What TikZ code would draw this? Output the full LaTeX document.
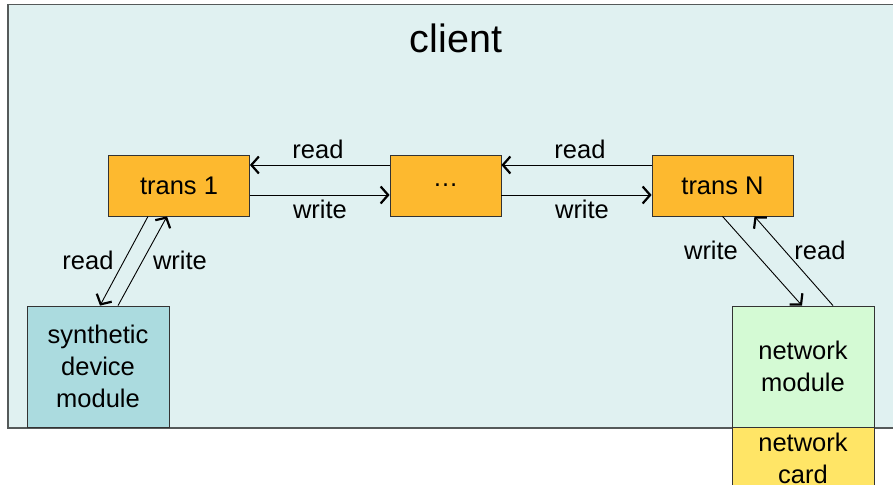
\documentclass[tikz,border=0pt]{standalone}
\usepackage{fontspec}
\setmainfont{Liberation Sans}
\usetikzlibrary{arrows.meta}
\definecolor{clientbg}{HTML}{E0F1F1}
\definecolor{transor}{HTML}{FDB92F}
\definecolor{synbg}{HTML}{ABDBDF}
\definecolor{netbg}{HTML}{D4FAD4}
\definecolor{cardbg}{HTML}{FFE566}
\definecolor{frame}{HTML}{555A5A}
\tikzset{
  lbl/.style={font=\fontsize{25.5}{32}\selectfont, inner sep=0pt},
  box/.style={draw=black!80, line width=0.8pt, inner sep=0pt, align=center, font=\fontsize{25.5}{32}\selectfont},
  transbox/.style={box, fill=transor, minimum width=141pt, minimum height=61pt},
  modbox/.style={box, minimum width=142pt, minimum height=121pt},
  arr/.style={line width=0.9pt, -{Straight Barb[length=7.5pt,width=17pt,line width=2.2pt]}},
}
\begin{document}
\begin{tikzpicture}[x=1pt,y=-1pt]
\useasboundingbox (0,0) rectangle (893,484);
\clip (0,0) rectangle (893,484);
\node[draw=frame, line width=1.5pt, fill=clientbg, minimum width=900pt, minimum height=423pt, anchor=north west, inner sep=0pt] (client) at (7,4) {};
\node[font=\fontsize{39.5}{42}\selectfont] (title) at (456,38) {client};
\node[transbox] (t1) at (179,185.5) {trans 1};
\node[transbox, minimum width=111pt] (dots) at (445.5,185.5) {\dots};
\node[transbox] (tn) at (722.5,185.5) {trans N};
\node[modbox, fill=synbg] (syn) at (98,366.5) {synthetic\\device\\module};
\node[modbox, fill=netbg] (net) at (803,366.5) {network\\module};
\node[box, fill=cardbg, minimum width=142pt, minimum height=62pt, anchor=north] (card) at (net.south) {network\\card};
% horizontal arrows
\draw[arr] ([yshift=20.5pt]dots.west) -- ([yshift=20.5pt]t1.east);
\draw[arr] ([yshift=-9.5pt]t1.east) -- ([yshift=-9.5pt]dots.west);
\draw[arr] ([yshift=20.5pt]tn.west) -- ([yshift=20.5pt]dots.east);
\draw[arr] ([yshift=-9.5pt]dots.east) -- ([yshift=-9.5pt]tn.west);
% diagonal arrows
\draw[arr] ([xshift=-31pt]t1.south) -- ([xshift=2pt]syn.north);
\draw[arr] ([xshift=20pt]syn.north) -- ([xshift=-12pt]t1.south);
\draw[arr] ([xshift=0pt]tn.south) -- ([xshift=-1pt]net.north);
\draw[arr] ([xshift=30pt]net.north) -- ([xshift=32pt]tn.south);
% labels
\node[lbl] (l1) at (318,149) {read};
\node[lbl] (l2) at (320,209) {write};
\node[lbl] (l3) at (580,149) {read};
\node[lbl] (l4) at (582,209) {write};
\node[lbl] (l5) at (88,260) {read};
\node[lbl] (l6) at (180,260) {write};
\node[lbl] (l7) at (711,250) {write};
\node[lbl] (l8) at (820,250) {read};
\end{tikzpicture}
\end{document}
